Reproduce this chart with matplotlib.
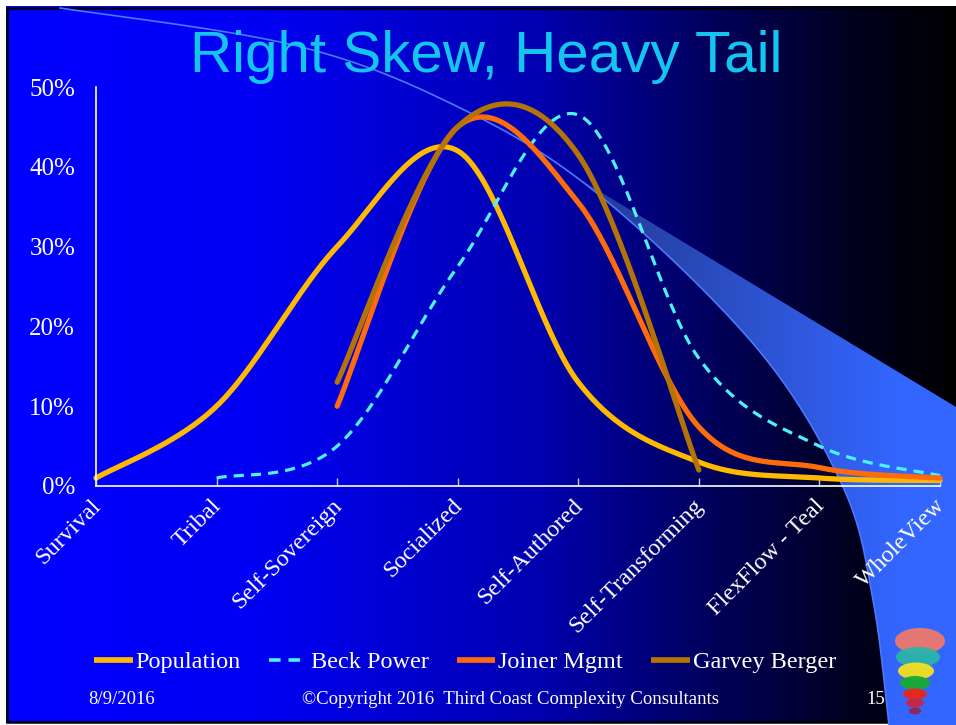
import numpy as np
import matplotlib
matplotlib.use("Agg")
import matplotlib.pyplot as plt
import matplotlib.transforms as mtransforms
from matplotlib import font_manager
from matplotlib.patches import Polygon, Ellipse, Rectangle
from matplotlib.lines import Line2D

# ---------------- data ----------------
categories = ["Survival", "Tribal", "Self-Sovereign", "Socialized", "Self-Authored",
              "Self-Transforming", "FlexFlow - Teal", "WholeView"]
population = [1, 10, 30, 42, 13, 3, 1, 0.7]
beck_power = [None, 1, 5, 27.5, 46.5, 16, 5, 1.3]
joiner_mgmt = [None, None, 10, 45, 35.5, 7.4, 2.3, 1]
garvey_berger = [None, None, 13, 45, 41.5, 2, None, None]
y_ticks = [0, 10, 20, 30, 40, 50]
series_names = ["Population", "Beck Power", "Joiner Mgmt", "Garvey Berger"]

W, H = 956, 725
SERIF = ["Liberation Serif", "DejaVu Serif"]
names = {f.name for f in font_manager.fontManager.ttflist}
if "Liberation Sans Narrow" in names:
    TITLE_FAM, TITLE_SIZE = ["Liberation Sans Narrow"], 47
else:
    TITLE_FAM, TITLE_SIZE = ["Liberation Sans"], 42


def smooth(xs, ys, n=40):
    """Excel-like smoothed line (Catmull-Rom as cubic Bezier)."""
    p = np.column_stack([xs, ys]).astype(float)
    out = []
    for i in range(len(p) - 1):
        p0 = p[i - 1] if i > 0 else p[i]
        p1, p2 = p[i], p[i + 1]
        p3 = p[i + 2] if i + 2 < len(p) else p[i + 1]
        c1 = p1 + (p2 - p0) / 6.0
        c2 = p2 - (p3 - p1) / 6.0
        t = np.linspace(0, 1, n)[:, None]
        seg = ((1 - t) ** 3) * p1 + 3 * ((1 - t) ** 2) * t * c1 + 3 * (1 - t) * t ** 2 * c2 + t ** 3 * p2
        out.append(seg if i == 0 else seg[1:])
    s = np.vstack(out)
    return s[:, 0], s[:, 1]


fig = plt.figure(figsize=(W / 100, H / 100), dpi=100, facecolor="white")

# ---------------- background slide ----------------
bg = fig.add_axes([0, 0, 1, 1], zorder=0)
bg.set_xlim(0, W)
bg.set_ylim(H, 0)
bg.axis("off")

gx = np.arange(W)
blue = np.interp(gx, [0, 250, 530, 700, 850, 956], [255, 245, 176, 95, 30, 0]) / 255.0
grad = np.zeros((2, W, 3))
grad[:, :, 2] = blue
bg.imshow(grad, extent=[6, W + 4, 723, 6], aspect="auto", zorder=0, interpolation="bilinear")
bg.add_patch(Rectangle((7.5, 7.5), W - 4, 714.5, fill=False, edgecolor="black", lw=1.8, zorder=1))

# swoosh shape
curve_pts = np.array([(60, 8), (293, 45), (450, 103), (593, 190), (756, 347),
                      (843, 487), (873, 600), (889, 725)], float)
cx, cy = smooth(curve_pts[:, 0], curve_pts[:, 1], n=30)
start = np.argmin(np.abs(cx - 575))
poly = np.vstack([np.column_stack([cx[start:], cy[start:]]),
                  [(W + 5, 725), (W + 5, 410), (cx[start], cy[start])]])
clip = Polygon(poly, closed=True, facecolor="none", edgecolor="none", transform=bg.transData)
bg.add_patch(clip)
frac = np.clip((np.linspace(560, W, 200) - 560) / (900 - 560), 0, 1)
fill = np.zeros((2, 200, 3))
fill[:, :, 0] = (35 + (51 - 35) * frac) / 255
fill[:, :, 1] = (55 + (102 - 55) * frac) / 255
fill[:, :, 2] = (140 + (255 - 140) * frac) / 255
im = bg.imshow(fill, extent=[560, W, 725, 150], aspect="auto", zorder=2, interpolation="bilinear")
im.set_clip_path(clip)
bg.plot(cx, cy, color="#4a78ff", lw=1.2, zorder=3)

# logo (hot-air-balloon-like rainbow)
for (x0, y0, w, h, c) in [(920, 641, 50, 26, "#f0786a"), (918, 657, 44, 20, "#2ab4a8"),
                          (916, 671, 36, 17, "#f5e020"), (915, 683, 30, 14, "#18aa30"),
                          (915, 694, 24, 11, "#ee2418"), (915, 703, 18, 9, "#c8283c"),
                          (915, 711, 12, 7, "#902850")]:
    bg.add_patch(Ellipse((x0, y0), w, h, facecolor=c, edgecolor="none", alpha=0.95, zorder=4))

# title
bg.text(486, 57, "Right Skew, Heavy Tail", family=TITLE_FAM, fontsize=TITLE_SIZE,
        color="#12c6f0", ha="center", va="center", zorder=5)

# footer
bg.text(122, 700, "8/9/2016", family=SERIF, fontsize=13.5, color="white", ha="center", va="center", zorder=5)
bg.text(511, 700, "\u00a9Copyright 2016  Third Coast Complexity Consultants", family=SERIF,
        fontsize=13.5, color="white", ha="center", va="center", zorder=5)
bg.text(876, 700, "15", family=SERIF, fontsize=13.5, color="white", ha="center", va="center", zorder=5)

# ---------------- chart ----------------
ax = fig.add_axes([96 / W, 1 - 486 / H, 844 / W, 399 / H], zorder=2)
ax.patch.set_alpha(0)
ax.set_xlim(0, len(categories) - 1)
ax.set_ylim(0, 50)

styles = [
    dict(color="#ffba00", lw=3.8, ls="-"),
    dict(color="#4df2ff", lw=2.3, ls=(0, (3.2, 2.2))),
    dict(color="#ff6a0a", lw=3.8, ls="-"),
    dict(color="#b47405", lw=3.8, ls="-"),
]
for vals, st in zip([population, beck_power, joiner_mgmt, garvey_berger], styles):
    xs = [i for i, v in enumerate(vals) if v is not None]
    ys = [v for v in vals if v is not None]
    sx, sy = smooth(xs, ys)
    ax.plot(sx, sy, color=st["color"], lw=st["lw"], ls=st["ls"], solid_capstyle="round",
            dash_capstyle="butt", clip_on=False)

for s in ["top", "right"]:
    ax.spines[s].set_visible(False)
for s in ["left", "bottom"]:
    ax.spines[s].set_color("white")
    ax.spines[s].set_linewidth(1.2)

ax.set_yticks(y_ticks)
ax.set_yticklabels([f"{v}%" for v in y_ticks])
ax.tick_params(axis="y", length=0, pad=15, labelsize=18, labelcolor="white")
ax.set_xticks(range(len(categories)))
ax.set_xticklabels(categories, rotation=45, ha="right", va="top")
ax.tick_params(axis="x", direction="in", length=6, width=1, color="#c8c8e0", pad=8,
               labelsize=17.5, labelcolor="white")
shift = mtransforms.ScaledTranslation(9 / 100, 2 / 100, fig.dpi_scale_trans)
for lab in ax.get_xticklabels():
    lab.set_transform(lab.get_transform() + shift)
for lab in ax.get_xticklabels() + ax.get_yticklabels():
    lab.set_family(SERIF)

handles = [Line2D([], [], color=st["color"], lw=st["lw"] + 0.3, ls=st["ls"], solid_capstyle="butt")
           for st in styles]
leg = fig.legend(handles, series_names, loc="center", bbox_to_anchor=(465 / W, 1 - 662 / H),
                 ncol=4, frameon=False, handlelength=1.6, handletextpad=0.12, columnspacing=1.15,
                 prop={"family": SERIF, "size": 17.5})
for t in leg.get_texts():
    t.set_color("white")

fig.savefig("out.png", dpi=100, facecolor="white")
